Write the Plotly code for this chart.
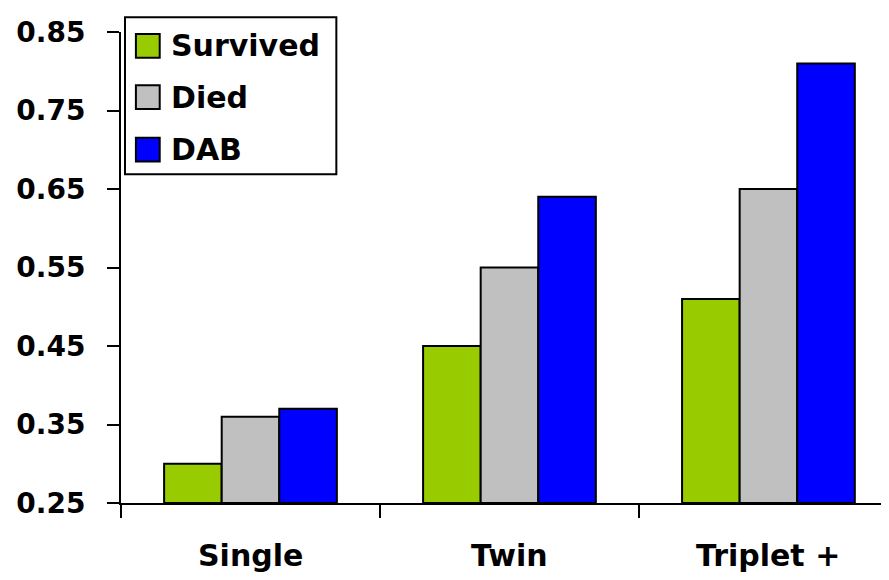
import plotly.graph_objects as go

categories = ["Single", "Twin", "Triplet +"]
x_pos = [0, 1, 2]
survived = [0.30, 0.45, 0.51]
died = [0.36, 0.55, 0.65]
dab = [0.37, 0.64, 0.81]
y_ticks = [0.25, 0.35, 0.45, 0.55, 0.65, 0.75, 0.85]
y_tick_text = ["0.25", "0.35", "0.45", "0.55", "0.65", "0.75", "0.85"]

series_names = ["Survived", "Died", "DAB"]
series_values = [survived, died, dab]
series_colors = ["#99CC00", "#C0C0C0", "#0000FF"]

FONT = "DejaVu Sans, sans-serif"

fig = go.Figure()
for name, vals, col in zip(series_names, series_values, series_colors):
    fig.add_trace(go.Bar(
        x=x_pos, y=[v - 0.25 for v in vals], base=0.25, name=name,
        marker=dict(color=col, line=dict(color="black", width=2)),
        showlegend=False,
    ))

for xi, cat in zip(x_pos, categories):
    fig.add_annotation(x=xi, y=0, xref="x", yref="paper", text=f"<b>{cat}</b>",
                       showarrow=False, yanchor="middle", yshift=-52,
                       font=dict(family=FONT, size=30, color="black"))

# legend (drawn in paper coordinates)
fig.add_shape(type="rect", xref="paper", yref="paper", x0=0.0052, x1=0.2804, y0=0.6981, y1=1.0314,
              line=dict(color="black", width=2), fillcolor="white", layer="above")
row_y = [0.9706, 0.8616, 0.7505]
half = 0.0252
for name, col, ry in zip(series_names, series_colors, row_y):
    fig.add_shape(type="rect", xref="paper", yref="paper", x0=0.0194, x1=0.0504,
                  y0=ry - half, y1=ry + half, line=dict(color="black", width=2),
                  fillcolor=col, layer="above")
    fig.add_annotation(x=0.0620, y=ry, xref="paper", yref="paper", text=f"<b>{name}</b>",
                       showarrow=False, xanchor="left", yanchor="middle",
                       font=dict(family=FONT, size=30, color="black"))

fig.update_layout(
    width=889, height=580,
    margin=dict(l=107, r=8, t=18, b=85),
    paper_bgcolor="white", plot_bgcolor="white",
    barmode="group", bargap=0.333, bargroupgap=0,
    font=dict(family=FONT, color="black"),
    showlegend=False,
)
fig.update_xaxes(
    range=[-0.5, 2.4655], tickmode="array", tickvals=[-0.5, 0.5, 1.5, 2.5],
    ticktext=["", "", "", ""], ticks="outside", ticklen=13, tickwidth=2, tickcolor="black",
    showline=True, linecolor="black", linewidth=2, showgrid=False, zeroline=False,
)
fig.update_yaxes(
    range=[0.25, 0.85], tickmode="array", tickvals=y_ticks,
    ticktext=[f"<b>{t}</b>" for t in y_tick_text],
    ticks="outside", ticklen=12, tickwidth=2, tickcolor="black",
    showline=True, linecolor="black", linewidth=2, showgrid=False, zeroline=False,
    tickfont=dict(family=FONT, size=28, color="black"), ticklabelstandoff=16,
)

fig.write_html("out.html")
